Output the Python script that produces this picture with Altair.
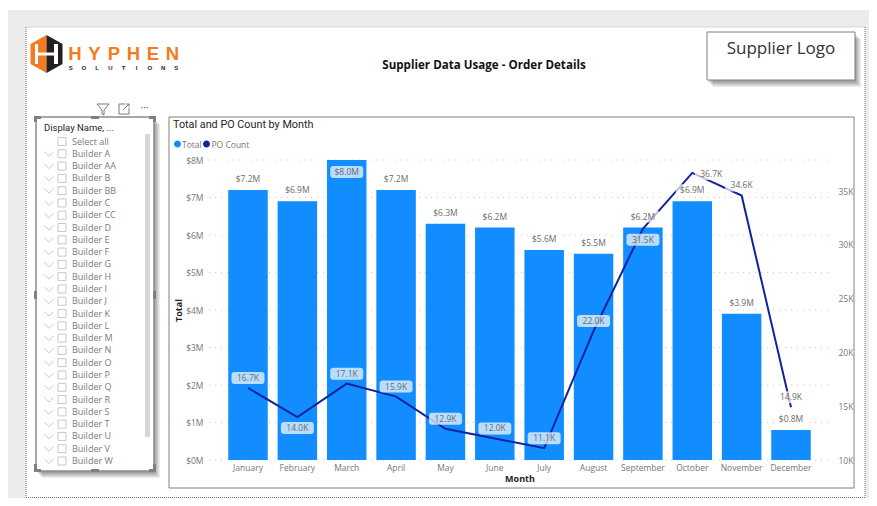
import altair as alt
import pandas as pd

months = ["January", "February", "March", "April", "May", "June", "July",
          "August", "September", "October", "November", "December"]
total_m = [7.2, 6.9, 8.0, 7.2, 6.3, 6.2, 5.6, 5.5, 6.2, 6.9, 3.9, 0.8]
po_k = [16.7, 14.0, 17.1, 15.9, 12.9, 12.0, 11.1, 22.0, 31.5, 36.7, 34.6, 14.9]
total_ticks = [0, 1, 2, 3, 4, 5, 6, 7, 8]
po_ticks = [10, 15, 20, 25, 30, 35]
slicer_rows = ["Select all", "Builder A", "Builder AA", "Builder B", "Builder BB", "Builder C",
               "Builder CC", "Builder D", "Builder E", "Builder F", "Builder G", "Builder H",
               "Builder I", "Builder J", "Builder K", "Builder L", "Builder M", "Builder N",
               "Builder O", "Builder P", "Builder Q", "Builder R", "Builder S", "Builder T",
               "Builder U", "Builder V", "Builder W"]

PX, PY, W, H = 209, 160, 621, 300
FULL_W, FULL_H = 861, 490
BLUE, NAVY = "#118DFF", "#12239E"
FONT = "Open Sans"
HEAD = "Roboto"
GREY = "#777777"
DARK = "#252423"
ONE = alt.Data(values=[{"k": 1}])

df = pd.DataFrame({"month": months, "total": total_m, "po": po_k})
df["tlabel"] = [f"${v:.1f}M" for v in total_m]
df["plabel"] = [f"{v:.1f}K" for v in po_k]

x_band = alt.Scale(domain=months, paddingInner=0.2, paddingOuter=0.39)
y_total = alt.Scale(domain=[0, 8], nice=False, zero=True)
y_po = alt.Scale(domain=[10, 37.9], nice=False, zero=False)
x_plain = alt.X("month:N", scale=x_band, axis=None)
PILL = ("M-13.5,-6 H13.5 Q16.5,-6 16.5,-3 V3 Q16.5,6 13.5,6 H-13.5 "
        "Q-16.5,6 -16.5,3 V-3 Q-16.5,-6 -13.5,-6 Z")


def box(x0, y0, x1, y1, fill="white", stroke=None, sw=1, opacity=1, radius=0):
    kw = {"fill": fill, "opacity": opacity}
    if stroke:
        kw.update(stroke=stroke, strokeWidth=sw)
    if radius:
        kw["cornerRadius"] = radius
    return alt.Chart(ONE).mark_rect(**kw).encode(
        x=alt.value(x0 - PX), x2=alt.value(x1 - PX),
        y=alt.value(y0 - PY), y2=alt.value(y1 - PY))


def label(x, y, s, size=9, color=GREY, font=FONT, weight="normal", align="left"):
    return alt.Chart(ONE).mark_text(fontSize=size, color=color, font=font, fontWeight=weight,
                                    align=align, baseline="middle").encode(
        x=alt.value(x - PX), y=alt.value(y - PY), text=alt.value(s))


def glyph(x, y, path, fill=None, stroke=None, sw=1):
    kw = {"shape": path, "size": 4, "opacity": 1}
    if fill:
        kw.update(filled=True, fill=fill, strokeWidth=0)
    else:
        kw.update(filled=False, stroke=stroke, strokeWidth=sw, fillOpacity=0)
    return alt.Chart(ONE).mark_point(**kw).encode(x=alt.value(x - PX), y=alt.value(y - PY))


def rule(x0, y0, x1, y1, color, dash=None, sw=1):
    kw = {"color": color, "strokeWidth": sw}
    if dash:
        kw["strokeDash"] = dash
    return alt.Chart(ONE).mark_rule(**kw).encode(
        x=alt.value(x0 - PX), x2=alt.value(x1 - PX),
        y=alt.value(y0 - PY), y2=alt.value(y1 - PY))


def shadow(x0, y0, x1, y1):
    return [box(x0 + d, y0 + d + 1, x1 + d, y1 + d + 1, fill="#000000", opacity=0.07)
            for d in (6, 5, 4, 3, 2, 1)]


layers = []
# page
layers.append(box(8, 10, 8 + FULL_W, 8 + FULL_H, fill="#EDECEA"))
layers.append(box(26, 27, 865, 498))
layers.append(rule(26, 27, 865, 27, "#d8d8d8"))
layers.append(rule(26, 27, 26, 497.5, "#777777", [1, 1]))
layers.append(rule(865, 27, 865, 497.5, "#777777", [1, 1]))
layers.append(rule(26, 497.5, 865, 497.5, "#777777", [1, 1]))

# logo
layers.append(glyph(38.5, 54, "M8,-19 L-8,-10 L-8,10 L8,19 Z", fill="#F47B20"))
layers.append(glyph(54.5, 54, "M-8,-19 L8,-10 L8,10 L-8,19 Z", fill="#231F20"))
layers.append(box(35, 44, 38, 64, fill="white"))
layers.append(box(54, 44, 58, 64, fill="white"))
layers.append(box(36, 52.5, 56, 55.5, fill="white"))
for i, ch in enumerate("HYPHEN"):
    layers.append(label(75 + 19.5 * i, 54, ch, size=18.5, color="#F47B20", font="Liberation Sans",
                        weight="bold", align="center"))
for i, ch in enumerate("SOLUTIONS"):
    layers.append(label(70.7 + 13.2 * i, 67.5, ch, size=6, color="#231F20", font="Liberation Sans",
                        weight="bold", align="center"))

# report title
layers.append(label(484, 66, "Supplier Data Usage - Order Details", size=11.6, color="#111111", weight="bold", align="center"))

# supplier logo box
layers += shadow(707, 32, 855, 80)
layers.append(box(707, 32, 855, 80, stroke="#7f7f7f"))
layers.append(label(781, 49, "Supplier Logo", size=17, color="#333333", align="center"))

# slicer header icons
layers.append(glyph(103, 109, "M-6,-5 L6,-5 L1,1 L1,6 L-1,5 L-1,1 Z", stroke="#7a7a7a"))
layers.append(glyph(124, 109, "M1,-5 L-5,-5 L-5,5 L5,5 L5,-1 M-1,1 L5,-5 M2,-5 L5,-5 L5,-2", stroke="#7a7a7a"))
layers.append(label(144.5, 108, "···", size=10, color="#555555", align="center"))

# slicer
layers += shadow(36, 117, 154, 471)
layers.append(box(36, 117, 154, 471, stroke="#8a8a8a", sw=1.5))
for a in [(34, 116, 41, 119), (34, 116, 37, 122), (149, 116, 156, 119), (153, 116, 156, 122),
          (34, 469, 41, 472), (34, 464, 37, 472), (149, 469, 156, 472), (153, 464, 156, 472),
          (91, 116, 99, 119), (91, 469, 99, 472), (34, 291, 37, 299), (153, 291, 156, 299)]:
    layers.append(box(*a, fill="#808080"))
layers.append(label(44, 128, "Display Name, ...", size=9.5, color=DARK, font=HEAD))
layers.append(box(145, 134, 150, 437, fill="#D6D6D6"))
row_y = alt.Y("row:N", axis=None,
              scale=alt.Scale(type="point", domain=slicer_rows, range=[141.5 - PY, 461 - PY], padding=0))
rows = pd.DataFrame({"row": slicer_rows})
layers.append(alt.Chart(rows).mark_point(shape="square", size=64, filled=False, stroke="#C8C8C8",
                                         strokeWidth=1, opacity=1, fillOpacity=0).encode(
    x=alt.value(62 - PX), y=row_y))
layers.append(alt.Chart(rows[rows.row != "Select all"]).mark_point(
    shape="M-4.5,-2 L0,2.5 L4.5,-2", size=4, filled=False, stroke="#C8C8C8", strokeWidth=1,
    opacity=1, fillOpacity=0).encode(x=alt.value(49 - PX), y=row_y))
layers.append(alt.Chart(rows).mark_text(fontSize=9, font=FONT, color="#7a7a7a", align="left",
                                        baseline="middle").encode(
    x=alt.value(72 - PX), y=row_y, text="row:N"))

# chart frame
layers.append(box(169, 117, 854, 488, stroke="#808080"))
layers.append(label(173, 125, "Total and PO Count by Month", size=10.8, color=DARK, font=HEAD))
layers.append(glyph(177.5, 144, "M-3.5,0 A3.5,3.5 0 1,1 3.5,0 A3.5,3.5 0 1,1 -3.5,0 Z", fill=BLUE))
layers.append(label(182, 144.5, "Total", size=8.5, color=GREY))
layers.append(glyph(206.5, 144, "M-3.5,0 A3.5,3.5 0 1,1 3.5,0 A3.5,3.5 0 1,1 -3.5,0 Z", fill=NAVY))
layers.append(label(211.5, 144.5, "PO Count", size=8.5, color=GREY))

# gridlines through the Total scale
layers.append(alt.Chart(pd.DataFrame({"t": total_ticks})).mark_rule(
    color="#C8C8C8", strokeWidth=1, strokeDash=[1, 5]).encode(
    x=alt.value(0), x2=alt.value(W),
    y=alt.Y("t:Q", scale=y_total, axis=None)))

# bars with the axes
layers.append(alt.Chart(df).mark_bar(color=BLUE).encode(
    x=alt.X("month:N", scale=x_band, title="Month",
            axis=alt.Axis(labelAngle=0, ticks=False, domain=False, grid=False, labelPadding=3,
                          labelColor=GREY, labelFontSize=8.5, labelFont=FONT, titleFont=FONT,
                          titleFontSize=9, titleColor=DARK, titleFontWeight="bold", titlePadding=3,
                          zindex=1)),
    y=alt.Y("total:Q", scale=y_total, title="Total",
            axis=alt.Axis(values=total_ticks, labelExpr="'$' + datum.value + 'M'", ticks=False,
                          domain=False, grid=False, labelPadding=6, labelColor=GREY,
                          labelFontSize=8.5, labelFont=FONT, titleFont=FONT, titleFontSize=9,
                          titleColor=DARK, titleFontWeight="bold", titlePadding=2, zindex=1))))

# line with the right axis
layers.append(alt.Chart(df).mark_line(color=NAVY, strokeWidth=2).encode(
    x=x_plain,
    y=alt.Y("po:Q", scale=y_po, title=None,
            axis=alt.Axis(orient="right", values=po_ticks, labelExpr="datum.value + 'K'",
                          ticks=False, domain=False, grid=False, labelPadding=8, labelColor=GREY,
                          labelFontSize=8.5, labelFont=FONT, zindex=1))))


def tagged(subset, field, text_field, scale, off_y, off_x=0):
    y = alt.Y(f"{field}:Q", scale=scale, axis=None)
    pill = alt.Chart(subset).mark_point(shape=PILL, size=4, filled=True, fill="white",
                                        fillOpacity=0.7, opacity=1, strokeWidth=0,
                                        yOffset=off_y, xOffset=off_x).encode(x=x_plain, y=y)
    text = alt.Chart(subset).mark_text(fontSize=8.5, font=FONT, color="#6b6b6b", baseline="middle",
                                       dy=off_y, dx=off_x).encode(x=x_plain, y=y, text=f"{text_field}:N")
    return [pill, text]


inside = ["March"]
layers += tagged(df[~df.month.isin(inside)], "total", "tlabel", y_total, -11)
layers += tagged(df[df.month.isin(inside)], "total", "tlabel", y_total, 12)
below = ["February", "September"]
beside = ["October"]
layers += tagged(df[~df.month.isin(below + beside)], "po", "plabel", y_po, -10)
layers += tagged(df[df.month.isin(below)], "po", "plabel", y_po, 11)
layers += tagged(df[df.month.isin(beside)], "po", "plabel", y_po, 1, 19)

chart = (alt.layer(*layers)
         .resolve_scale(y="independent")
         .resolve_axis(x="independent", y="independent")
         .properties(width=W, height=H, autosize=alt.AutoSizeParams(type="none"),
                     padding={"left": PX - 8, "top": PY - 8,
                              "right": FULL_W - W - (PX - 8), "bottom": FULL_H - H - (PY - 8)},
                     background="white")
         .configure_view(strokeWidth=0))

chart.save("out.html", embed_options={"renderer": "svg", "actions": False})
